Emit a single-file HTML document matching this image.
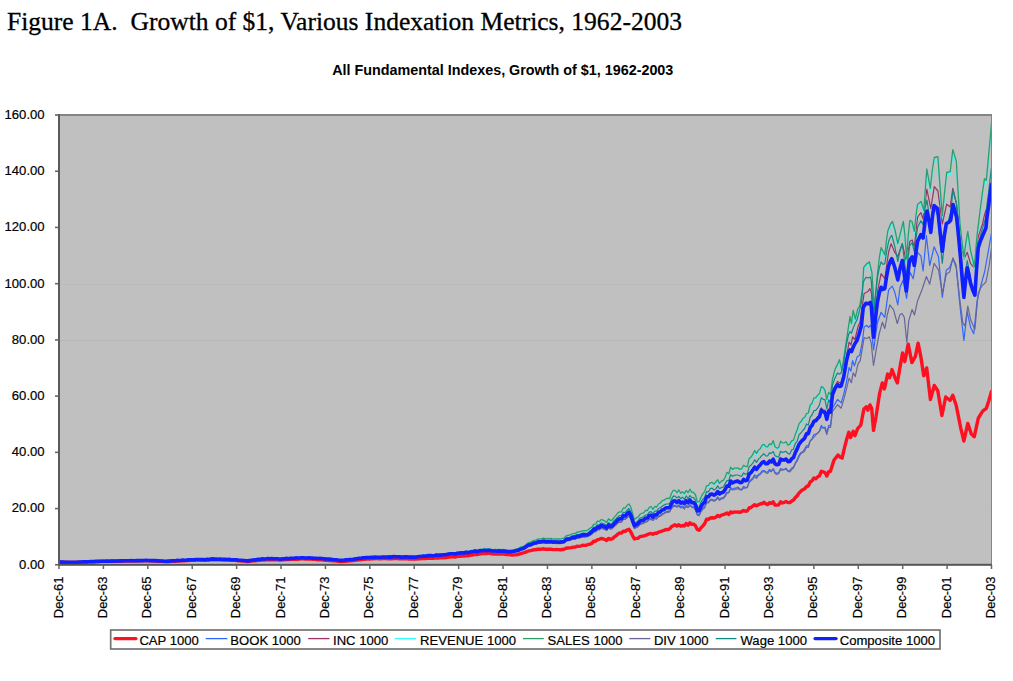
<!DOCTYPE html>
<html><head><meta charset="utf-8"><title>Figure 1A</title>
<style>
html,body{margin:0;padding:0;background:#fff;}
body{width:1013px;height:681px;position:relative;overflow:hidden;font-family:"Liberation Sans",sans-serif;}
.fig{position:absolute;left:7px;top:7.2px;font-family:"Liberation Serif",serif;font-size:25.55px;color:#000;white-space:pre;line-height:30px;-webkit-text-stroke:0.3px #000;}
.ct{position:absolute;left:0;width:1005.5px;top:62.4px;text-align:center;font-family:"Liberation Sans",sans-serif;font-weight:bold;font-size:14.35px;color:#000;line-height:16px;}
svg text{font-family:"Liberation Sans",sans-serif;fill:#000;stroke:#000;stroke-width:0.2px;}
.ax{font-size:12.95px;}
.ay{font-size:13.1px;}
.lg{font-size:13.1px;}
</style></head><body>
<div class="fig" id="fig">Figure 1A.  Growth of $1, Various Indexation Metrics, 1962-2003</div>
<div class="ct" id="ct">All Fundamental Indexes, Growth of $1, 1962-2003</div>
<svg width="1013" height="681" viewBox="0 0 1013 681" style="position:absolute;left:0;top:0"><rect x="59.0" y="115.0" width="932.5" height="449.79999999999995" fill="#c0c0c0"/><line x1="59.0" y1="509.5" x2="991.5" y2="509.5" stroke="#bebebe" stroke-width="1"/><line x1="59.0" y1="452.5" x2="991.5" y2="452.5" stroke="#bebebe" stroke-width="1"/><line x1="59.0" y1="396.5" x2="991.5" y2="396.5" stroke="#bebebe" stroke-width="1"/><line x1="59.0" y1="340.5" x2="991.5" y2="340.5" stroke="#b7b7b7" stroke-width="1"/><line x1="59.0" y1="284.5" x2="991.5" y2="284.5" stroke="#bbbbbb" stroke-width="1"/><line x1="59.0" y1="227.5" x2="991.5" y2="227.5" stroke="#bebebe" stroke-width="1"/><line x1="59.0" y1="171.5" x2="991.5" y2="171.5" stroke="#bebebe" stroke-width="1"/><clipPath id="cp"><rect x="59.0" y="114.0" width="933.0" height="451.79999999999995"/></clipPath><g clip-path="url(#cp)" fill="none" stroke-linejoin="round" stroke-linecap="round"><path d="M59.0,561.9 L60.9,562.1 L62.7,562.2 L64.6,562.3 L66.4,562.3 L68.3,562.5 L70.1,562.5 L72.0,562.4 L73.8,562.4 L75.7,562.4 L77.5,562.3 L79.4,562.2 L81.2,562.1 L83.1,562.0 L84.9,562.1 L86.8,562.0 L88.6,561.9 L90.5,561.7 L92.3,561.8 L94.2,561.7 L96.0,561.6 L97.9,561.6 L99.7,561.5 L101.6,561.4 L103.4,561.3 L105.3,561.4 L107.1,561.3 L109.0,561.4 L110.8,561.3 L112.7,561.3 L114.5,561.3 L116.4,561.2 L118.2,561.2 L120.1,561.3 L121.9,561.2 L123.8,561.1 L125.6,561.0 L127.5,561.0 L129.3,561.1 L131.2,560.9 L133.0,561.0 L134.9,561.0 L136.7,561.0 L138.6,560.9 L140.4,560.8 L142.3,560.9 L144.1,560.8 L146.0,560.8 L147.8,560.9 L149.7,560.9 L151.5,560.9 L153.4,561.0 L155.2,561.1 L157.1,561.2 L158.9,561.3 L160.8,561.4 L162.6,561.4 L164.5,561.6 L166.3,561.6 L168.2,561.5 L170.0,561.4 L171.9,561.2 L173.7,561.3 L175.6,561.2 L177.4,560.9 L179.3,561.0 L181.1,560.9 L183.0,560.7 L184.8,560.8 L186.7,560.6 L188.5,560.5 L190.4,560.4 L192.2,560.3 L194.1,560.3 L195.9,560.1 L197.8,560.1 L199.6,560.1 L201.5,560.1 L203.3,560.1 L205.2,560.2 L207.0,560.0 L208.9,560.1 L210.7,559.9 L212.6,559.7 L214.4,559.9 L216.3,559.8 L218.1,559.9 L220.0,559.9 L221.8,560.0 L223.7,560.0 L225.5,560.1 L227.4,560.1 L229.2,560.0 L231.1,560.3 L232.9,560.2 L234.8,560.4 L236.6,560.5 L238.5,560.8 L240.3,560.9 L242.2,561.0 L244.0,561.1 L245.9,561.3 L247.7,561.5 L249.6,561.3 L251.4,561.0 L253.3,560.9 L255.1,560.7 L257.0,560.5 L258.8,560.2 L260.7,560.2 L262.5,559.8 L264.4,560.0 L266.2,559.9 L268.1,559.6 L269.9,559.8 L271.8,559.7 L273.6,559.7 L275.5,559.9 L277.3,559.9 L279.2,560.0 L281.0,560.1 L282.9,559.8 L284.7,559.8 L286.6,559.6 L288.4,559.6 L290.3,559.5 L292.1,559.4 L294.0,559.3 L295.8,559.1 L297.7,559.2 L299.5,559.0 L301.4,558.9 L303.2,558.9 L305.1,559.1 L306.9,559.1 L308.8,559.0 L310.6,559.1 L312.5,559.3 L314.3,559.4 L316.2,559.5 L318.0,559.8 L319.9,559.7 L321.7,559.9 L323.6,560.0 L325.4,560.2 L327.3,560.4 L329.1,560.5 L331.0,560.6 L332.8,560.8 L334.7,560.9 L336.5,561.1 L338.4,561.4 L340.2,561.6 L342.1,561.5 L343.9,561.4 L345.8,561.2 L347.6,561.0 L349.5,560.9 L351.3,560.8 L353.2,560.6 L355.0,560.3 L356.9,560.1 L358.7,559.9 L360.6,559.7 L362.4,559.4 L364.3,559.3 L366.1,559.1 L368.0,559.1 L369.8,559.0 L371.7,558.9 L373.5,558.9 L375.4,558.6 L377.2,558.6 L379.1,558.7 L380.9,558.7 L382.8,558.6 L384.6,558.6 L386.5,558.6 L388.3,558.8 L390.2,558.7 L392.0,558.7 L393.9,558.4 L395.7,558.6 L397.6,558.6 L399.4,558.7 L401.3,558.9 L403.1,558.9 L405.0,558.8 L406.8,558.6 L408.7,559.0 L410.5,559.0 L412.4,558.9 L414.2,559.0 L416.1,559.0 L417.9,558.8 L419.8,558.7 L421.6,558.6 L423.5,558.3 L425.3,558.5 L427.2,558.4 L429.0,558.2 L430.9,558.1 L432.7,558.3 L434.6,558.0 L436.4,557.8 L438.3,558.0 L440.1,557.9 L442.0,557.6 L443.8,557.7 L445.7,557.5 L447.5,557.2 L449.4,557.0 L451.2,556.9 L453.1,556.9 L454.9,557.0 L456.8,556.5 L458.6,556.3 L460.5,556.2 L462.3,555.9 L464.2,556.0 L466.0,555.5 L467.9,555.7 L469.7,555.4 L471.6,555.0 L473.4,554.8 L475.3,554.2 L477.1,554.5 L479.0,554.0 L480.8,553.8 L482.7,553.6 L484.5,553.3 L486.4,553.5 L488.2,553.2 L490.1,553.4 L491.9,553.9 L493.8,554.0 L495.6,554.0 L497.5,554.1 L499.3,554.0 L501.2,554.1 L503.0,554.1 L504.9,554.2 L506.7,554.5 L508.6,554.6 L510.4,554.7 L512.3,555.0 L514.1,554.9 L516.0,554.8 L517.8,554.6 L519.7,553.9 L521.5,553.4 L523.4,552.9 L525.2,552.4 L527.1,551.5 L529.0,550.9 L530.8,550.6 L532.7,550.0 L534.5,549.7 L536.4,549.5 L538.2,549.1 L540.1,549.3 L541.9,549.1 L543.8,548.8 L545.6,549.4 L547.5,549.2 L549.3,549.3 L551.2,549.2 L553.0,549.6 L554.9,549.6 L556.7,549.5 L558.6,549.6 L560.4,549.8 L562.3,549.5 L564.1,549.2 L566.0,548.3 L567.8,548.0 L569.7,547.9 L571.5,547.6 L573.4,547.1 L575.2,547.1 L577.1,546.2 L578.9,546.4 L580.8,546.1 L582.6,545.2 L584.5,545.4 L586.3,545.3 L588.2,544.5 L590.0,544.1 L591.9,543.4 L593.7,541.1 L595.6,541.2 L597.4,539.7 L599.3,539.3 L601.1,538.5 L603.0,538.7 L604.8,539.5 L606.7,540.4 L608.5,538.4 L610.4,539.3 L612.2,538.9 L614.1,537.1 L615.9,535.9 L617.8,534.1 L619.6,532.9 L621.5,533.1 L623.3,531.3 L625.2,531.3 L627.0,530.0 L628.9,529.2 L630.7,531.7 L632.6,535.7 L634.4,539.0 L636.3,538.4 L638.1,538.3 L640.0,536.6 L641.8,536.3 L643.7,535.9 L645.5,535.3 L647.4,534.6 L649.2,533.8 L651.1,533.4 L652.9,534.3 L654.8,533.3 L656.6,533.3 L658.5,532.2 L660.3,531.7 L662.2,531.0 L664.0,530.4 L665.9,529.5 L667.7,529.6 L669.6,528.9 L671.4,526.8 L673.3,525.6 L675.1,524.8 L677.0,526.1 L678.8,524.7 L680.7,526.3 L682.5,525.5 L684.4,526.0 L686.2,523.5 L688.1,525.2 L689.9,522.9 L691.8,524.4 L693.6,524.1 L695.5,525.7 L697.3,529.4 L699.2,530.3 L701.0,527.8 L702.9,525.8 L704.7,523.6 L706.6,519.3 L708.4,519.2 L710.3,518.0 L712.1,517.8 L714.0,518.0 L715.8,517.2 L717.7,515.4 L719.5,516.5 L721.4,515.2 L723.2,514.7 L725.1,513.9 L726.9,512.9 L728.8,514.5 L730.6,511.9 L732.5,512.8 L734.3,511.9 L736.2,512.1 L738.0,512.0 L739.9,512.4 L741.7,511.5 L743.6,510.5 L745.4,511.2 L747.3,511.0 L749.1,508.0 L751.0,507.5 L752.8,506.0 L754.7,504.7 L756.5,505.9 L758.4,504.8 L760.2,504.0 L762.1,503.5 L763.9,502.3 L765.8,503.8 L767.6,504.6 L769.5,502.6 L771.3,503.3 L773.2,501.9 L775.0,505.1 L776.9,505.1 L778.7,504.8 L780.6,501.8 L782.4,503.0 L784.3,502.3 L786.1,501.5 L788.0,502.6 L789.8,502.6 L791.7,501.1 L793.5,500.1 L795.4,497.5 L797.2,495.8 L799.1,492.9 L800.9,491.2 L802.8,489.7 L804.6,488.9 L806.5,486.5 L808.3,486.0 L810.2,482.0 L812.0,480.8 L813.9,478.0 L815.7,478.8 L817.6,476.8 L819.4,476.0 L821.3,471.3 L823.1,471.9 L825.0,472.5 L826.8,476.0 L828.7,471.6 L830.5,471.3 L833.9,460.2 L838.0,455.0 L840.0,457.0 L842.1,458.1 L844.4,448.1 L846.5,440.0 L848.8,432.2 L850.6,437.5 L853.2,431.3 L855.0,435.7 L857.6,428.7 L860.8,425.2 L863.8,409.3 L866.4,406.7 L867.8,410.2 L870.0,404.9 L871.7,408.4 L873.5,430.4 L876.1,416.3 L879.6,393.4 L882.3,382.9 L884.4,389.0 L887.6,374.1 L889.7,377.6 L892.0,369.6 L894.6,376.7 L897.3,382.9 L899.9,367.9 L902.6,352.9 L904.8,361.7 L908.2,344.1 L911.9,362.6 L915.4,356.4 L918.1,343.2 L921.1,358.2 L923.7,375.8 L926.7,367.9 L930.4,399.6 L934.3,385.5 L937.8,390.8 L941.9,415.5 L945.7,397.0 L950.1,400.5 L952.8,395.2 L956.3,405.8 L960.7,427.8 L963.9,441.0 L967.8,423.4 L971.3,434.0 L974.3,436.6 L978.3,418.1 L982.7,411.1 L986.3,408.4 L988.9,400.5 L991.5,391.5" stroke="#ff1020" stroke-width="3.4"/><path d="M59.0,561.9 L60.9,562.1 L62.7,562.2 L64.6,562.3 L66.4,562.3 L68.3,562.4 L70.1,562.4 L72.0,562.3 L73.8,562.3 L75.7,562.2 L77.5,562.2 L79.4,562.1 L81.2,562.0 L83.1,561.9 L84.9,562.0 L86.8,561.9 L88.6,561.7 L90.5,561.6 L92.3,561.6 L94.2,561.6 L96.0,561.4 L97.9,561.4 L99.7,561.3 L101.6,561.2 L103.4,561.2 L105.3,561.2 L107.1,561.1 L109.0,561.1 L110.8,561.1 L112.7,561.1 L114.5,561.0 L116.4,561.0 L118.2,561.0 L120.1,560.9 L121.9,560.9 L123.8,560.9 L125.6,560.8 L127.5,560.7 L129.3,560.9 L131.2,560.6 L133.0,560.7 L134.9,560.7 L136.7,560.6 L138.6,560.6 L140.4,560.5 L142.3,560.6 L144.1,560.5 L146.0,560.5 L147.8,560.6 L149.7,560.6 L151.5,560.5 L153.4,560.6 L155.2,560.7 L157.1,560.8 L158.9,560.9 L160.8,561.0 L162.6,561.0 L164.5,561.2 L166.3,561.2 L168.2,561.1 L170.0,561.1 L171.9,560.8 L173.7,560.8 L175.6,560.7 L177.4,560.5 L179.3,560.5 L181.1,560.4 L183.0,560.1 L184.8,560.3 L186.7,560.1 L188.5,559.9 L190.4,559.8 L192.2,559.7 L194.1,559.7 L195.9,559.6 L197.8,559.6 L199.6,559.6 L201.5,559.7 L203.3,559.6 L205.2,559.7 L207.0,559.4 L208.9,559.5 L210.7,559.2 L212.6,559.0 L214.4,559.2 L216.3,559.2 L218.1,559.2 L220.0,559.2 L221.8,559.4 L223.7,559.4 L225.5,559.5 L227.4,559.5 L229.2,559.5 L231.1,559.7 L232.9,559.8 L234.8,559.9 L236.6,560.0 L238.5,560.3 L240.3,560.3 L242.2,560.4 L244.0,560.6 L245.9,560.7 L247.7,561.0 L249.6,560.7 L251.4,560.3 L253.3,560.2 L255.1,560.0 L257.0,559.6 L258.8,559.4 L260.7,559.3 L262.5,558.9 L264.4,559.1 L266.2,558.9 L268.1,558.6 L269.9,558.8 L271.8,558.7 L273.6,558.8 L275.5,559.0 L277.3,559.0 L279.2,559.1 L281.0,559.2 L282.9,558.9 L284.7,558.9 L286.6,558.6 L288.4,558.8 L290.3,558.5 L292.1,558.5 L294.0,558.4 L295.8,558.1 L297.7,558.2 L299.5,558.1 L301.4,558.0 L303.2,557.9 L305.1,558.2 L306.9,558.1 L308.8,558.0 L310.6,558.1 L312.5,558.3 L314.3,558.4 L316.2,558.5 L318.0,558.7 L319.9,558.5 L321.7,558.7 L323.6,558.8 L325.4,559.1 L327.3,559.2 L329.1,559.2 L331.0,559.5 L332.8,559.7 L334.7,559.8 L336.5,560.0 L338.4,560.3 L340.2,560.5 L342.1,560.5 L343.9,560.4 L345.8,560.0 L347.6,559.9 L349.5,559.8 L351.3,559.7 L353.2,559.5 L355.0,559.1 L356.9,558.9 L358.7,558.6 L360.6,558.5 L362.4,558.1 L364.3,557.9 L366.1,557.8 L368.0,557.7 L369.8,557.8 L371.7,557.6 L373.5,557.7 L375.4,557.4 L377.2,557.5 L379.1,557.4 L380.9,557.4 L382.8,557.3 L384.6,557.2 L386.5,557.2 L388.3,557.3 L390.2,557.2 L392.0,557.3 L393.9,556.9 L395.7,557.1 L397.6,557.1 L399.4,557.1 L401.3,557.4 L403.1,557.3 L405.0,557.2 L406.8,557.0 L408.7,557.4 L410.5,557.3 L412.4,557.3 L414.2,557.5 L416.1,557.3 L417.9,557.0 L419.8,556.8 L421.6,556.7 L423.5,556.3 L425.3,556.5 L427.2,556.3 L429.0,556.0 L430.9,555.8 L432.7,556.1 L434.6,555.8 L436.4,555.4 L438.3,555.7 L440.1,555.5 L442.0,555.4 L443.8,555.2 L445.7,555.1 L447.5,554.6 L449.4,554.2 L451.2,554.2 L453.1,554.3 L454.9,554.3 L456.8,553.9 L458.6,553.8 L460.5,553.4 L462.3,553.3 L464.2,553.4 L466.0,552.9 L467.9,553.2 L469.7,552.7 L471.6,552.3 L473.4,552.1 L475.3,551.8 L477.1,552.4 L479.0,551.5 L480.8,551.3 L482.7,551.3 L484.5,550.9 L486.4,551.3 L488.2,551.0 L490.1,551.2 L491.9,551.6 L493.8,551.6 L495.6,551.6 L497.5,551.9 L499.3,551.6 L501.2,551.8 L503.0,551.7 L504.9,551.9 L506.7,552.2 L508.6,552.4 L510.4,552.4 L512.3,552.1 L514.1,552.0 L516.0,551.6 L517.8,551.1 L519.7,550.2 L521.5,549.6 L523.4,549.2 L525.2,548.2 L527.1,546.8 L529.0,546.0 L530.8,545.8 L532.7,544.7 L534.5,544.3 L536.4,543.8 L538.2,543.0 L540.1,543.4 L541.9,542.8 L543.8,542.4 L545.6,543.0 L547.5,542.7 L549.3,542.8 L551.2,542.7 L553.0,543.3 L554.9,543.2 L556.7,543.1 L558.6,543.5 L560.4,543.3 L562.3,543.0 L564.1,542.7 L566.0,541.0 L567.8,540.4 L569.7,540.3 L571.5,539.4 L573.4,538.7 L575.2,539.0 L577.1,537.7 L578.9,538.0 L580.8,537.5 L582.6,536.6 L584.5,536.6 L586.3,536.5 L588.2,536.1 L590.0,535.0 L591.9,533.4 L593.7,531.5 L595.6,531.2 L597.4,529.2 L599.3,529.5 L601.1,527.9 L603.0,528.2 L604.8,529.1 L606.7,530.4 L608.5,527.3 L610.4,528.7 L612.2,528.2 L614.1,526.0 L615.9,524.8 L617.8,522.5 L619.6,521.9 L621.5,521.8 L623.3,518.7 L625.2,519.0 L627.0,517.3 L628.9,515.4 L630.7,517.9 L632.6,523.2 L634.4,528.0 L636.3,527.0 L638.1,526.5 L640.0,523.8 L641.8,523.2 L643.7,522.6 L645.5,521.0 L647.4,520.9 L649.2,518.8 L651.1,518.4 L652.9,520.2 L654.8,517.9 L656.6,517.9 L658.5,516.1 L660.3,515.3 L662.2,513.7 L664.0,513.0 L665.9,511.7 L667.7,511.1 L669.6,511.3 L671.4,508.1 L673.3,505.4 L675.1,505.3 L677.0,506.7 L678.8,505.0 L680.7,506.9 L682.5,506.0 L684.4,507.6 L686.2,505.3 L688.1,506.9 L689.9,504.7 L691.8,507.0 L693.6,506.7 L695.5,509.1 L697.3,514.2 L699.2,514.6 L701.0,510.7 L702.9,508.2 L704.7,506.4 L706.6,502.2 L708.4,501.8 L710.3,499.7 L712.1,499.3 L714.0,500.6 L715.8,499.4 L717.7,496.9 L719.5,499.4 L721.4,497.9 L723.2,497.9 L725.1,495.4 L726.9,492.3 L728.8,492.1 L730.6,487.4 L732.5,489.2 L734.3,488.2 L736.2,488.1 L738.0,487.1 L739.9,489.0 L741.7,489.3 L743.6,486.3 L745.4,487.4 L747.3,487.2 L749.1,481.8 L751.0,479.6 L752.8,477.8 L754.7,474.9 L756.5,476.4 L758.4,474.6 L760.2,473.5 L762.1,470.8 L763.9,470.5 L765.8,471.8 L767.6,472.1 L769.5,469.4 L771.3,471.0 L773.2,468.8 L775.0,472.3 L776.9,473.2 L778.7,472.9 L780.6,468.6 L782.4,469.3 L784.3,469.3 L786.1,468.3 L788.0,471.2 L789.8,470.7 L791.7,468.0 L793.5,467.0 L795.4,462.7 L797.2,459.5 L799.1,455.0 L800.9,452.6 L802.8,451.9 L804.6,449.0 L806.5,445.7 L808.3,445.8 L810.2,440.6 L812.0,438.8 L813.9,434.5 L815.7,434.1 L817.6,433.2 L819.4,431.2 L821.3,425.5 L823.1,427.7 L825.0,427.0 L826.8,432.6 L828.7,425.3 L830.5,425.8 L832.5,408.0 L837.6,399.4 L841.2,402.9 L843.8,394.1 L846.5,381.8 L849.1,367.6 L850.9,371.2 L852.6,360.6 L854.4,365.9 L857.1,357.1 L859.7,355.3 L862.4,341.2 L864.1,327.1 L866.8,325.3 L868.5,327.5 L870.3,325.3 L871.1,327.0 L873.6,350.0 L877.4,323.0 L881.1,312.3 L884.8,317.3 L888.6,289.8 L892.3,286.1 L894.8,292.3 L897.8,304.8 L900.0,287.5 L903.0,280.0 L906.6,298.5 L909.9,272.1 L913.2,278.7 L917.6,252.3 L920.9,256.0 L923.1,271.0 L926.4,235.7 L929.7,265.5 L934.1,246.8 L938.5,256.7 L942.3,297.4 L946.3,269.9 L949.6,267.7 L952.9,258.9 L956.2,267.5 L960.6,311.7 L963.9,340.4 L967.2,311.7 L970.5,327.2 L973.8,333.8 L977.1,300.7 L981.5,283.1 L984.8,271.0 L988.1,252.3 L991.5,233.0" stroke="#3366ff" stroke-width="1.2"/><path d="M59.0,561.9 L60.9,562.1 L62.7,562.1 L64.6,562.3 L66.4,562.3 L68.3,562.4 L70.1,562.4 L72.0,562.3 L73.8,562.2 L75.7,562.3 L77.5,562.2 L79.4,562.1 L81.2,562.0 L83.1,561.9 L84.9,562.0 L86.8,561.9 L88.6,561.7 L90.5,561.6 L92.3,561.6 L94.2,561.6 L96.0,561.4 L97.9,561.5 L99.7,561.3 L101.6,561.2 L103.4,561.2 L105.3,561.2 L107.1,561.1 L109.0,561.1 L110.8,561.1 L112.7,561.1 L114.5,561.0 L116.4,561.0 L118.2,561.0 L120.1,560.9 L121.9,560.9 L123.8,560.8 L125.6,560.8 L127.5,560.7 L129.3,560.8 L131.2,560.6 L133.0,560.7 L134.9,560.7 L136.7,560.6 L138.6,560.5 L140.4,560.5 L142.3,560.6 L144.1,560.5 L146.0,560.4 L147.8,560.5 L149.7,560.6 L151.5,560.5 L153.4,560.6 L155.2,560.7 L157.1,560.8 L158.9,560.9 L160.8,561.0 L162.6,561.0 L164.5,561.2 L166.3,561.2 L168.2,561.0 L170.0,561.1 L171.9,560.8 L173.7,560.8 L175.6,560.6 L177.4,560.4 L179.3,560.5 L181.1,560.4 L183.0,560.1 L184.8,560.2 L186.7,560.1 L188.5,559.9 L190.4,559.8 L192.2,559.7 L194.1,559.7 L195.9,559.5 L197.8,559.5 L199.6,559.5 L201.5,559.6 L203.3,559.6 L205.2,559.7 L207.0,559.3 L208.9,559.5 L210.7,559.1 L212.6,558.9 L214.4,559.2 L216.3,559.1 L218.1,559.1 L220.0,559.1 L221.8,559.3 L223.7,559.3 L225.5,559.4 L227.4,559.5 L229.2,559.4 L231.1,559.7 L232.9,559.7 L234.8,559.8 L236.6,559.9 L238.5,560.2 L240.3,560.1 L242.2,560.4 L244.0,560.4 L245.9,560.7 L247.7,560.9 L249.6,560.6 L251.4,560.3 L253.3,560.1 L255.1,559.9 L257.0,559.5 L258.8,559.2 L260.7,559.2 L262.5,558.8 L264.4,558.9 L266.2,558.8 L268.1,558.4 L269.9,558.7 L271.8,558.6 L273.6,558.7 L275.5,558.8 L277.3,558.9 L279.2,559.0 L281.0,559.1 L282.9,558.8 L284.7,558.7 L286.6,558.5 L288.4,558.6 L290.3,558.5 L292.1,558.4 L294.0,558.3 L295.8,557.9 L297.7,558.0 L299.5,558.0 L301.4,557.8 L303.2,557.8 L305.1,557.9 L306.9,558.0 L308.8,557.8 L310.6,558.0 L312.5,558.1 L314.3,558.3 L316.2,558.3 L318.0,558.5 L319.9,558.4 L321.7,558.5 L323.6,558.6 L325.4,558.9 L327.3,559.0 L329.1,559.0 L331.0,559.3 L332.8,559.6 L334.7,559.7 L336.5,559.8 L338.4,560.2 L340.2,560.3 L342.1,560.3 L343.9,560.2 L345.8,559.9 L347.6,559.7 L349.5,559.6 L351.3,559.5 L353.2,559.2 L355.0,558.9 L356.9,558.8 L358.7,558.4 L360.6,558.2 L362.4,557.9 L364.3,557.6 L366.1,557.6 L368.0,557.4 L369.8,557.5 L371.7,557.4 L373.5,557.4 L375.4,557.1 L377.2,557.2 L379.1,557.2 L380.9,557.2 L382.8,557.0 L384.6,557.0 L386.5,556.9 L388.3,557.1 L390.2,556.9 L392.0,557.0 L393.9,556.6 L395.7,556.9 L397.6,556.7 L399.4,556.9 L401.3,557.1 L403.1,557.1 L405.0,556.9 L406.8,556.7 L408.7,557.0 L410.5,557.0 L412.4,557.0 L414.2,557.1 L416.1,557.1 L417.9,556.7 L419.8,556.5 L421.6,556.4 L423.5,556.0 L425.3,556.1 L427.2,556.0 L429.0,555.6 L430.9,555.4 L432.7,555.9 L434.6,555.5 L436.4,555.1 L438.3,555.2 L440.1,555.1 L442.0,555.1 L443.8,554.8 L445.7,554.6 L447.5,554.3 L449.4,553.9 L451.2,553.7 L453.1,553.8 L454.9,553.9 L456.8,553.4 L458.6,553.3 L460.5,553.0 L462.3,552.8 L464.2,552.9 L466.0,552.3 L467.9,552.7 L469.7,552.2 L471.6,551.8 L473.4,551.6 L475.3,551.1 L477.1,551.6 L479.0,550.9 L480.8,550.7 L482.7,550.7 L484.5,550.3 L486.4,550.8 L488.2,550.4 L490.1,550.5 L491.9,551.0 L493.8,550.9 L495.6,550.8 L497.5,551.2 L499.3,550.8 L501.2,551.2 L503.0,551.1 L504.9,551.2 L506.7,551.5 L508.6,551.8 L510.4,551.8 L512.3,551.5 L514.1,551.4 L516.0,550.9 L517.8,550.5 L519.7,549.6 L521.5,548.8 L523.4,548.2 L525.2,547.5 L527.1,545.8 L529.0,545.0 L530.8,544.7 L532.7,543.5 L534.5,542.8 L536.4,542.9 L538.2,541.7 L540.1,542.0 L541.9,541.6 L543.8,541.1 L545.6,541.7 L547.5,541.3 L549.3,541.6 L551.2,541.5 L553.0,542.2 L554.9,542.2 L556.7,542.1 L558.6,542.1 L560.4,542.2 L562.3,541.9 L564.1,541.4 L566.0,539.6 L567.8,539.1 L569.7,539.0 L571.5,538.0 L573.4,537.0 L575.2,537.4 L577.1,536.1 L578.9,536.4 L580.8,535.7 L582.6,534.8 L584.5,535.0 L586.3,535.1 L588.2,534.3 L590.0,533.2 L591.9,531.9 L593.7,529.4 L595.6,529.3 L597.4,527.1 L599.3,527.1 L601.1,525.3 L603.0,526.0 L604.8,526.6 L606.7,527.8 L608.5,524.9 L610.4,526.8 L612.2,526.1 L614.1,523.6 L615.9,521.8 L617.8,519.5 L619.6,518.7 L621.5,518.7 L623.3,515.4 L625.2,516.0 L627.0,513.4 L628.9,512.4 L630.7,514.4 L632.6,520.6 L634.4,525.5 L636.3,524.5 L638.1,523.8 L640.0,521.0 L641.8,520.3 L643.7,519.8 L645.5,518.1 L647.4,517.7 L649.2,515.7 L651.1,515.2 L652.9,517.1 L654.8,514.9 L656.6,514.8 L658.5,512.4 L660.3,511.6 L662.2,509.9 L664.0,509.1 L665.9,507.6 L667.7,507.4 L669.6,507.3 L671.4,503.5 L673.3,500.6 L675.1,500.6 L677.0,502.8 L678.8,500.5 L680.7,502.4 L682.5,502.2 L684.4,503.3 L686.2,500.5 L688.1,502.1 L689.9,499.6 L691.8,502.5 L693.6,502.2 L695.5,504.9 L697.3,510.2 L699.2,510.4 L701.0,506.4 L702.9,503.6 L704.7,501.7 L706.6,496.7 L708.4,496.6 L710.3,493.6 L712.1,493.7 L714.0,494.6 L715.8,493.4 L717.7,491.4 L719.5,493.1 L721.4,492.0 L723.2,492.0 L725.1,489.5 L726.9,485.5 L728.8,485.6 L730.6,480.7 L732.5,482.5 L734.3,481.5 L736.2,481.0 L738.0,480.4 L739.9,481.5 L741.7,481.4 L743.6,479.0 L745.4,480.1 L747.3,479.7 L749.1,473.5 L751.0,472.0 L752.8,469.0 L754.7,466.1 L756.5,468.9 L758.4,465.4 L760.2,464.4 L762.1,461.7 L763.9,460.6 L765.8,463.1 L767.6,463.3 L769.5,460.0 L771.3,460.8 L773.2,458.3 L775.0,462.3 L776.9,463.7 L778.7,463.6 L780.6,458.0 L782.4,459.2 L784.3,458.9 L786.1,458.0 L788.0,460.5 L789.8,459.9 L791.7,457.7 L793.5,456.3 L795.4,451.5 L797.2,448.4 L799.1,443.3 L800.9,440.5 L802.8,439.9 L804.6,437.0 L806.5,432.3 L808.3,432.0 L810.2,425.8 L812.0,423.6 L813.9,420.0 L815.7,419.6 L817.6,416.8 L819.4,415.9 L821.3,407.8 L823.1,410.7 L825.0,410.0 L826.8,417.6 L828.7,408.8 L830.5,409.9 L832.5,391.0 L837.5,381.5 L841.2,383.5 L843.8,373.0 L846.5,357.0 L849.1,342.0 L851.0,345.0 L852.6,336.8 L855.0,339.5 L857.9,327.0 L860.0,322.0 L862.0,308.0 L864.1,293.5 L867.6,291.8 L869.9,288.6 L871.5,293.0 L873.6,331.0 L877.4,292.0 L881.1,273.6 L884.8,278.6 L888.6,252.0 L891.1,243.7 L894.8,252.4 L897.8,256.5 L900.0,250.0 L902.3,243.7 L906.3,261.0 L909.9,241.3 L912.2,240.0 L914.3,247.0 L917.6,217.0 L920.9,212.6 L923.1,219.0 L926.8,189.2 L930.8,208.6 L934.3,186.6 L937.9,191.0 L942.3,224.0 L946.7,204.2 L950.2,207.0 L952.8,188.3 L956.3,203.0 L960.6,239.1 L963.9,258.9 L967.2,252.3 L970.5,263.3 L974.4,268.0 L978.2,236.9 L982.6,223.6 L984.8,213.7 L987.5,206.0 L989.5,192.0 L991.5,181.0" stroke="#993366" stroke-width="1.2"/><path d="M59.0,561.9 L60.9,562.1 L62.7,562.2 L64.6,562.3 L66.4,562.3 L68.3,562.3 L70.1,562.4 L72.0,562.3 L73.8,562.3 L75.7,562.2 L77.5,562.2 L79.4,562.1 L81.2,561.9 L83.1,561.9 L84.9,561.9 L86.8,561.9 L88.6,561.7 L90.5,561.6 L92.3,561.6 L94.2,561.6 L96.0,561.4 L97.9,561.4 L99.7,561.2 L101.6,561.2 L103.4,561.2 L105.3,561.2 L107.1,561.1 L109.0,561.1 L110.8,561.1 L112.7,561.0 L114.5,561.0 L116.4,561.0 L118.2,560.9 L120.1,560.9 L121.9,560.8 L123.8,560.8 L125.6,560.7 L127.5,560.6 L129.3,560.8 L131.2,560.6 L133.0,560.6 L134.9,560.7 L136.7,560.6 L138.6,560.5 L140.4,560.4 L142.3,560.5 L144.1,560.4 L146.0,560.4 L147.8,560.5 L149.7,560.5 L151.5,560.4 L153.4,560.5 L155.2,560.6 L157.1,560.7 L158.9,560.8 L160.8,560.9 L162.6,560.9 L164.5,561.1 L166.3,561.1 L168.2,561.0 L170.0,561.0 L171.9,560.7 L173.7,560.8 L175.6,560.6 L177.4,560.3 L179.3,560.4 L181.1,560.3 L183.0,560.0 L184.8,560.1 L186.7,560.0 L188.5,559.8 L190.4,559.7 L192.2,559.5 L194.1,559.5 L195.9,559.4 L197.8,559.4 L199.6,559.4 L201.5,559.5 L203.3,559.4 L205.2,559.5 L207.0,559.2 L208.9,559.3 L210.7,558.9 L212.6,558.8 L214.4,559.0 L216.3,558.9 L218.1,559.0 L220.0,558.9 L221.8,559.1 L223.7,559.2 L225.5,559.3 L227.4,559.3 L229.2,559.2 L231.1,559.5 L232.9,559.5 L234.8,559.6 L236.6,559.7 L238.5,560.0 L240.3,560.0 L242.2,560.2 L244.0,560.3 L245.9,560.5 L247.7,560.7 L249.6,560.5 L251.4,560.1 L253.3,559.9 L255.1,559.7 L257.0,559.3 L258.8,559.0 L260.7,559.0 L262.5,558.6 L264.4,558.7 L266.2,558.5 L268.1,558.2 L269.9,558.4 L271.8,558.4 L273.6,558.5 L275.5,558.6 L277.3,558.6 L279.2,558.7 L281.0,558.8 L282.9,558.6 L284.7,558.4 L286.6,558.1 L288.4,558.4 L290.3,558.1 L292.1,558.1 L294.0,557.9 L295.8,557.6 L297.7,557.7 L299.5,557.7 L301.4,557.5 L303.2,557.4 L305.1,557.7 L306.9,557.7 L308.8,557.4 L310.6,557.6 L312.5,557.8 L314.3,557.9 L316.2,558.0 L318.0,558.2 L319.9,558.1 L321.7,558.2 L323.6,558.3 L325.4,558.6 L327.3,558.7 L329.1,558.8 L331.0,559.0 L332.8,559.3 L334.7,559.4 L336.5,559.6 L338.4,559.9 L340.2,560.1 L342.1,560.1 L343.9,560.0 L345.8,559.6 L347.6,559.5 L349.5,559.3 L351.3,559.3 L353.2,559.0 L355.0,558.6 L356.9,558.4 L358.7,558.0 L360.6,557.9 L362.4,557.5 L364.3,557.2 L366.1,557.2 L368.0,557.0 L369.8,557.1 L371.7,556.9 L373.5,556.9 L375.4,556.7 L377.2,556.7 L379.1,556.7 L380.9,556.6 L382.8,556.4 L384.6,556.5 L386.5,556.4 L388.3,556.6 L390.2,556.3 L392.0,556.6 L393.9,556.0 L395.7,556.2 L397.6,556.3 L399.4,556.3 L401.3,556.6 L403.1,556.5 L405.0,556.3 L406.8,556.1 L408.7,556.6 L410.5,556.5 L412.4,556.5 L414.2,556.6 L416.1,556.4 L417.9,556.1 L419.8,555.9 L421.6,555.8 L423.5,555.4 L425.3,555.5 L427.2,555.2 L429.0,554.8 L430.9,554.7 L432.7,555.1 L434.6,554.7 L436.4,554.3 L438.3,554.6 L440.1,554.3 L442.0,554.2 L443.8,554.0 L445.7,553.7 L447.5,553.4 L449.4,552.9 L451.2,552.8 L453.1,552.8 L454.9,553.0 L456.8,552.4 L458.6,552.3 L460.5,551.8 L462.3,551.8 L464.2,552.0 L466.0,551.2 L467.9,551.5 L469.7,551.0 L471.6,550.6 L473.4,550.4 L475.3,549.8 L477.1,550.6 L479.0,549.7 L480.8,549.3 L482.7,549.3 L484.5,548.8 L486.4,549.3 L488.2,548.9 L490.1,549.0 L491.9,549.5 L493.8,549.5 L495.6,549.5 L497.5,549.8 L499.3,549.4 L501.2,549.7 L503.0,549.6 L504.9,549.8 L506.7,550.2 L508.6,550.3 L510.4,550.3 L512.3,550.0 L514.1,549.9 L516.0,549.3 L517.8,548.8 L519.7,547.8 L521.5,546.9 L523.4,546.4 L525.2,545.3 L527.1,543.7 L529.0,542.4 L530.8,542.3 L532.7,541.0 L534.5,540.4 L536.4,540.1 L538.2,539.1 L540.1,539.2 L541.9,538.6 L543.8,538.2 L545.6,538.9 L547.5,538.6 L549.3,538.8 L551.2,538.4 L553.0,539.3 L554.9,539.2 L556.7,539.0 L558.6,539.4 L560.4,539.1 L562.3,538.9 L564.1,538.2 L566.0,536.1 L567.8,535.7 L569.7,535.6 L571.5,534.2 L573.4,533.6 L575.2,534.0 L577.1,532.1 L578.9,532.5 L580.8,531.8 L582.6,530.6 L584.5,530.8 L586.3,530.8 L588.2,530.1 L590.0,528.7 L591.9,527.1 L593.7,524.4 L595.6,524.6 L597.4,521.7 L599.3,521.9 L601.1,520.1 L603.0,520.5 L604.8,521.5 L606.7,523.0 L608.5,519.2 L610.4,520.9 L612.2,520.4 L614.1,517.5 L615.9,515.7 L617.8,513.5 L619.6,512.3 L621.5,512.0 L623.3,508.7 L625.2,508.7 L627.0,506.0 L628.9,504.6 L630.7,507.2 L632.6,513.8 L634.4,519.8 L636.3,518.5 L638.1,517.8 L640.0,514.5 L641.8,513.8 L643.7,513.1 L645.5,511.1 L647.4,510.9 L649.2,508.3 L651.1,507.5 L652.9,510.2 L654.8,507.0 L656.6,507.2 L658.5,504.6 L660.3,503.9 L662.2,501.6 L664.0,501.2 L665.9,499.2 L667.7,499.0 L669.6,499.2 L671.4,495.2 L673.3,491.1 L675.1,491.1 L677.0,493.1 L678.8,491.0 L680.7,493.7 L682.5,492.0 L684.4,494.5 L686.2,490.6 L688.1,493.2 L689.9,490.0 L691.8,493.4 L693.6,492.4 L695.5,495.3 L697.3,502.6 L699.2,502.4 L701.0,497.4 L702.9,494.5 L704.7,492.3 L706.6,486.0 L708.4,486.3 L710.3,483.2 L712.1,483.0 L714.0,484.5 L715.8,483.1 L717.7,480.0 L719.5,483.6 L721.4,481.6 L723.2,480.7 L725.1,478.2 L726.9,473.8 L728.8,473.1 L730.6,467.6 L732.5,469.9 L734.3,469.2 L736.2,468.1 L738.0,468.1 L739.9,470.4 L741.7,469.3 L743.6,466.0 L745.4,467.8 L747.3,466.8 L749.1,459.8 L751.0,457.9 L752.8,454.7 L754.7,451.4 L756.5,454.5 L758.4,451.4 L760.2,449.3 L762.1,446.4 L763.9,445.2 L765.8,447.9 L767.6,448.1 L769.5,444.6 L771.3,446.0 L773.2,442.2 L775.0,447.8 L776.9,448.9 L778.7,448.3 L780.6,442.7 L782.4,443.3 L784.3,443.7 L786.1,442.8 L788.0,445.3 L789.8,445.3 L791.7,442.9 L793.5,441.3 L795.4,434.9 L797.2,431.7 L799.1,426.3 L800.9,423.3 L802.8,420.4 L804.6,419.7 L806.5,413.9 L808.3,413.9 L810.2,406.5 L812.0,404.8 L813.9,400.7 L815.7,398.6 L817.6,396.4 L819.4,396.0 L821.3,386.4 L823.1,388.7 L825.0,391.3 L826.8,401.0 L828.7,393.7 L830.5,396.8 L832.5,380.3 L835.0,370.8 L837.6,365.5 L839.4,361.1 L842.0,371.7 L844.7,353.3 L847.4,335.7 L850.0,318.2 L851.4,325.2 L853.2,312.1 L855.3,320.8 L857.9,310.3 L859.7,307.7 L862.4,291.9 L863.7,269.5 L866.5,266.1 L869.4,264.0 L871.9,274.4 L874.4,311.6 L877.4,276.9 L879.3,260.1 L881.1,249.7 L884.8,257.1 L886.5,242.3 L887.8,233.3 L890.5,226.4 L892.5,223.9 L895.0,232.3 L897.8,245.7 L900.0,236.9 L903.3,223.8 L905.0,238.3 L906.6,261.0 L908.2,238.3 L909.9,222.7 L912.0,223.9 L914.3,233.6 L916.0,217.4 L917.6,206.7 L921.1,204.0 L923.8,212.9 L925.4,190.6 L926.8,171.8 L930.3,190.9 L932.3,172.8 L934.3,160.4 L937.9,159.6 L940.0,188.7 L942.3,218.0 L944.5,195.6 L946.7,175.2 L950.2,174.4 L952.8,152.5 L956.3,163.9 L958.0,192.6 L959.9,225.1 L962.0,244.3 L963.9,258.9 L966.0,244.3 L967.8,233.6 L970.5,252.3 L974.4,268.7 L977.1,236.9 L980.4,210.7 L982.5,194.6 L984.5,181.4 L986.3,183.1 L988.9,155.2 L990.3,140.0 L991.5,126.1" stroke="#33ffff" stroke-width="1.2"/><path d="M59.0,561.9 L60.9,562.1 L62.7,562.1 L64.6,562.3 L66.4,562.3 L68.3,562.4 L70.1,562.4 L72.0,562.3 L73.8,562.2 L75.7,562.2 L77.5,562.2 L79.4,562.1 L81.2,561.9 L83.1,561.9 L84.9,561.9 L86.8,561.9 L88.6,561.7 L90.5,561.6 L92.3,561.6 L94.2,561.6 L96.0,561.4 L97.9,561.4 L99.7,561.3 L101.6,561.2 L103.4,561.2 L105.3,561.1 L107.1,561.0 L109.0,561.1 L110.8,561.1 L112.7,561.0 L114.5,561.0 L116.4,560.9 L118.2,560.9 L120.1,560.9 L121.9,560.8 L123.8,560.8 L125.6,560.7 L127.5,560.6 L129.3,560.8 L131.2,560.5 L133.0,560.6 L134.9,560.7 L136.7,560.6 L138.6,560.5 L140.4,560.4 L142.3,560.5 L144.1,560.4 L146.0,560.4 L147.8,560.4 L149.7,560.5 L151.5,560.4 L153.4,560.5 L155.2,560.5 L157.1,560.7 L158.9,560.8 L160.8,560.9 L162.6,560.9 L164.5,561.1 L166.3,561.1 L168.2,560.9 L170.0,561.0 L171.9,560.7 L173.7,560.7 L175.6,560.6 L177.4,560.3 L179.3,560.4 L181.1,560.3 L183.0,560.0 L184.8,560.1 L186.7,560.0 L188.5,559.8 L190.4,559.7 L192.2,559.6 L194.1,559.5 L195.9,559.4 L197.8,559.3 L199.6,559.3 L201.5,559.4 L203.3,559.4 L205.2,559.5 L207.0,559.1 L208.9,559.3 L210.7,559.0 L212.6,558.7 L214.4,558.9 L216.3,558.9 L218.1,558.9 L220.0,558.9 L221.8,559.1 L223.7,559.2 L225.5,559.2 L227.4,559.3 L229.2,559.2 L231.1,559.4 L232.9,559.5 L234.8,559.6 L236.6,559.7 L238.5,560.0 L240.3,560.0 L242.2,560.2 L244.0,560.3 L245.9,560.5 L247.7,560.7 L249.6,560.4 L251.4,560.1 L253.3,559.9 L255.1,559.7 L257.0,559.3 L258.8,559.0 L260.7,559.0 L262.5,558.6 L264.4,558.7 L266.2,558.5 L268.1,558.2 L269.9,558.4 L271.8,558.4 L273.6,558.4 L275.5,558.6 L277.3,558.6 L279.2,558.7 L281.0,558.9 L282.9,558.5 L284.7,558.5 L286.6,558.1 L288.4,558.4 L290.3,558.1 L292.1,558.1 L294.0,557.9 L295.8,557.6 L297.7,557.6 L299.5,557.7 L301.4,557.5 L303.2,557.4 L305.1,557.6 L306.9,557.6 L308.8,557.5 L310.6,557.5 L312.5,557.8 L314.3,557.9 L316.2,557.9 L318.0,558.2 L319.9,558.0 L321.7,558.2 L323.6,558.3 L325.4,558.6 L327.3,558.7 L329.1,558.7 L331.0,559.0 L332.8,559.3 L334.7,559.4 L336.5,559.6 L338.4,559.9 L340.2,560.1 L342.1,560.0 L343.9,560.0 L345.8,559.6 L347.6,559.4 L349.5,559.3 L351.3,559.2 L353.2,559.0 L355.0,558.6 L356.9,558.3 L358.7,558.0 L360.6,557.8 L362.4,557.5 L364.3,557.2 L366.1,557.1 L368.0,557.0 L369.8,557.0 L371.7,556.8 L373.5,556.9 L375.4,556.6 L377.2,556.7 L379.1,556.7 L380.9,556.7 L382.8,556.4 L384.6,556.5 L386.5,556.4 L388.3,556.5 L390.2,556.3 L392.0,556.5 L393.9,556.0 L395.7,556.2 L397.6,556.1 L399.4,556.3 L401.3,556.5 L403.1,556.5 L405.0,556.3 L406.8,556.1 L408.7,556.5 L410.5,556.4 L412.4,556.3 L414.2,556.6 L416.1,556.4 L417.9,556.0 L419.8,555.8 L421.6,555.8 L423.5,555.3 L425.3,555.4 L427.2,555.2 L429.0,554.7 L430.9,554.7 L432.7,555.1 L434.6,554.7 L436.4,554.2 L438.3,554.5 L440.1,554.2 L442.0,554.2 L443.8,553.9 L445.7,553.7 L447.5,553.3 L449.4,553.0 L451.2,552.6 L453.1,552.8 L454.9,552.9 L456.8,552.3 L458.6,552.1 L460.5,551.9 L462.3,551.7 L464.2,551.9 L466.0,551.1 L467.9,551.5 L469.7,550.9 L471.6,550.4 L473.4,550.2 L475.3,549.6 L477.1,550.4 L479.0,549.5 L480.8,549.2 L482.7,549.4 L484.5,548.8 L486.4,549.2 L488.2,548.9 L490.1,549.1 L491.9,549.4 L493.8,549.6 L495.6,549.3 L497.5,549.7 L499.3,549.4 L501.2,549.7 L503.0,549.4 L504.9,549.6 L506.7,550.0 L508.6,550.2 L510.4,550.2 L512.3,550.0 L514.1,549.7 L516.0,549.0 L517.8,548.7 L519.7,547.6 L521.5,546.8 L523.4,546.4 L525.2,545.2 L527.1,543.4 L529.0,542.5 L530.8,542.2 L532.7,540.8 L534.5,540.3 L536.4,539.9 L538.2,538.9 L540.1,539.1 L541.9,538.5 L543.8,538.1 L545.6,538.8 L547.5,538.5 L549.3,538.6 L551.2,538.4 L553.0,539.1 L554.9,538.8 L556.7,539.0 L558.6,538.9 L560.4,539.0 L562.3,538.4 L564.1,538.2 L566.0,536.0 L567.8,535.5 L569.7,535.2 L571.5,534.1 L573.4,533.5 L575.2,533.6 L577.1,532.0 L578.9,532.2 L580.8,531.4 L582.6,530.8 L584.5,530.6 L586.3,530.7 L588.2,529.8 L590.0,528.2 L591.9,527.1 L593.7,524.3 L595.6,524.2 L597.4,521.2 L599.3,521.7 L601.1,519.6 L603.0,520.0 L604.8,521.1 L606.7,522.4 L608.5,518.8 L610.4,520.5 L612.2,520.0 L614.1,517.4 L615.9,515.4 L617.8,512.8 L619.6,511.9 L621.5,511.8 L623.3,508.0 L625.2,508.2 L627.0,505.5 L628.9,503.9 L630.7,506.8 L632.6,513.5 L634.4,519.6 L636.3,517.9 L638.1,517.2 L640.0,514.3 L641.8,513.3 L643.7,512.8 L645.5,510.4 L647.4,510.5 L649.2,507.4 L651.1,506.5 L652.9,509.4 L654.8,506.5 L656.6,507.0 L658.5,504.0 L660.3,503.0 L662.2,500.6 L664.0,500.2 L665.9,498.9 L667.7,498.2 L669.6,498.7 L671.4,493.5 L673.3,490.4 L675.1,490.3 L677.0,492.7 L678.8,489.9 L680.7,493.2 L682.5,491.8 L684.4,493.6 L686.2,490.5 L688.1,492.7 L689.9,489.2 L691.8,492.3 L693.6,492.4 L695.5,495.0 L697.3,501.8 L699.2,501.7 L701.0,497.3 L702.9,493.6 L704.7,491.6 L706.6,485.8 L708.4,485.3 L710.3,482.6 L712.1,482.5 L714.0,484.0 L715.8,482.0 L717.7,479.7 L719.5,483.4 L721.4,481.2 L723.2,480.4 L725.1,477.5 L726.9,472.4 L728.8,473.7 L730.6,467.1 L732.5,469.4 L734.3,468.1 L736.2,468.1 L738.0,467.9 L739.9,469.4 L741.7,468.7 L743.6,465.2 L745.4,466.6 L747.3,466.5 L749.1,458.7 L751.0,457.1 L752.8,454.4 L754.7,450.5 L756.5,453.4 L758.4,450.2 L760.2,448.8 L762.1,445.2 L763.9,444.4 L765.8,446.7 L767.6,446.9 L769.5,443.8 L771.3,444.7 L773.2,440.7 L775.0,446.7 L776.9,448.1 L778.7,447.6 L780.6,441.1 L782.4,442.9 L784.3,442.7 L786.1,441.9 L788.0,445.3 L789.8,444.1 L791.7,440.8 L793.5,440.1 L795.4,434.1 L797.2,429.7 L799.1,423.6 L800.9,421.8 L802.8,418.7 L804.6,417.3 L806.5,413.7 L808.3,413.0 L810.2,405.0 L812.0,403.4 L813.9,397.9 L815.7,397.8 L817.6,395.2 L819.4,393.7 L821.3,386.7 L823.1,387.3 L825.0,390.5 L826.8,399.3 L828.7,392.3 L830.5,394.4 L832.5,379.0 L835.0,369.4 L837.6,364.1 L839.4,359.7 L842.0,370.3 L844.7,351.8 L847.4,334.1 L850.0,316.5 L851.4,323.5 L853.2,310.3 L855.3,319.1 L857.9,308.5 L859.7,305.9 L862.4,290.0 L863.7,267.4 L866.5,264.0 L869.4,261.9 L871.9,272.4 L874.4,309.8 L877.4,274.9 L879.3,258.0 L881.1,247.5 L884.8,254.9 L886.5,240.0 L887.8,231.0 L890.5,224.0 L892.5,221.5 L895.0,230.0 L897.8,243.5 L900.0,234.6 L903.3,221.4 L905.0,236.0 L906.6,258.9 L908.2,236.0 L909.9,220.3 L912.0,221.5 L914.3,231.3 L916.0,215.0 L917.6,204.2 L921.1,201.5 L923.8,210.4 L925.4,188.0 L926.8,169.0 L930.3,188.3 L932.3,170.0 L934.3,157.5 L937.9,156.7 L940.0,186.0 L942.3,215.6 L944.5,193.0 L946.7,172.5 L950.2,171.6 L952.8,149.6 L956.3,161.1 L958.0,190.0 L959.9,222.7 L962.0,242.0 L963.9,256.7 L966.0,242.0 L967.8,231.3 L970.5,250.1 L974.4,266.6 L977.1,234.6 L980.4,208.2 L982.5,192.0 L984.5,178.7 L986.3,180.4 L988.9,152.3 L990.3,137.0 L991.5,123.0" stroke="#2f9d6b" stroke-width="1.3"/><path d="M59.0,561.9 L60.9,562.1 L62.7,562.1 L64.6,562.3 L66.4,562.3 L68.3,562.4 L70.1,562.4 L72.0,562.3 L73.8,562.3 L75.7,562.2 L77.5,562.2 L79.4,562.1 L81.2,562.0 L83.1,561.9 L84.9,561.9 L86.8,561.9 L88.6,561.7 L90.5,561.6 L92.3,561.6 L94.2,561.6 L96.0,561.5 L97.9,561.4 L99.7,561.3 L101.6,561.2 L103.4,561.2 L105.3,561.2 L107.1,561.1 L109.0,561.1 L110.8,561.1 L112.7,561.1 L114.5,561.0 L116.4,561.0 L118.2,561.0 L120.1,561.0 L121.9,560.9 L123.8,560.9 L125.6,560.8 L127.5,560.7 L129.3,560.9 L131.2,560.7 L133.0,560.7 L134.9,560.7 L136.7,560.7 L138.6,560.6 L140.4,560.5 L142.3,560.6 L144.1,560.5 L146.0,560.5 L147.8,560.6 L149.7,560.6 L151.5,560.5 L153.4,560.6 L155.2,560.7 L157.1,560.8 L158.9,560.9 L160.8,561.0 L162.6,561.0 L164.5,561.2 L166.3,561.2 L168.2,561.1 L170.0,561.1 L171.9,560.8 L173.7,560.9 L175.6,560.8 L177.4,560.5 L179.3,560.6 L181.1,560.5 L183.0,560.2 L184.8,560.3 L186.7,560.1 L188.5,560.0 L190.4,559.8 L192.2,559.8 L194.1,559.7 L195.9,559.6 L197.8,559.6 L199.6,559.6 L201.5,559.7 L203.3,559.7 L205.2,559.7 L207.0,559.5 L208.9,559.6 L210.7,559.2 L212.6,559.0 L214.4,559.3 L216.3,559.2 L218.1,559.3 L220.0,559.2 L221.8,559.4 L223.7,559.4 L225.5,559.5 L227.4,559.5 L229.2,559.5 L231.1,559.7 L232.9,559.7 L234.8,559.9 L236.6,560.0 L238.5,560.3 L240.3,560.3 L242.2,560.4 L244.0,560.6 L245.9,560.8 L247.7,560.9 L249.6,560.7 L251.4,560.4 L253.3,560.2 L255.1,560.0 L257.0,559.6 L258.8,559.4 L260.7,559.3 L262.5,559.0 L264.4,559.1 L266.2,558.9 L268.1,558.7 L269.9,558.9 L271.8,558.8 L273.6,558.9 L275.5,559.0 L277.3,559.0 L279.2,559.1 L281.0,559.3 L282.9,559.0 L284.7,558.9 L286.6,558.7 L288.4,558.9 L290.3,558.6 L292.1,558.6 L294.0,558.5 L295.8,558.2 L297.7,558.3 L299.5,558.2 L301.4,558.1 L303.2,558.0 L305.1,558.2 L306.9,558.2 L308.8,558.1 L310.6,558.2 L312.5,558.4 L314.3,558.5 L316.2,558.5 L318.0,558.7 L319.9,558.6 L321.7,558.8 L323.6,558.9 L325.4,559.1 L327.3,559.2 L329.1,559.3 L331.0,559.5 L332.8,559.8 L334.7,559.9 L336.5,560.0 L338.4,560.4 L340.2,560.5 L342.1,560.5 L343.9,560.4 L345.8,560.1 L347.6,560.0 L349.5,559.9 L351.3,559.8 L353.2,559.5 L355.0,559.2 L356.9,559.0 L358.7,558.7 L360.6,558.5 L362.4,558.2 L364.3,558.0 L366.1,557.9 L368.0,557.8 L369.8,557.9 L371.7,557.7 L373.5,557.7 L375.4,557.4 L377.2,557.5 L379.1,557.5 L380.9,557.5 L382.8,557.3 L384.6,557.3 L386.5,557.3 L388.3,557.4 L390.2,557.2 L392.0,557.4 L393.9,557.0 L395.7,557.1 L397.6,557.2 L399.4,557.2 L401.3,557.4 L403.1,557.5 L405.0,557.3 L406.8,557.1 L408.7,557.4 L410.5,557.4 L412.4,557.4 L414.2,557.4 L416.1,557.3 L417.9,557.1 L419.8,556.9 L421.6,556.8 L423.5,556.5 L425.3,556.6 L427.2,556.4 L429.0,556.1 L430.9,556.0 L432.7,556.2 L434.6,555.9 L436.4,555.6 L438.3,555.8 L440.1,555.6 L442.0,555.5 L443.8,555.3 L445.7,555.2 L447.5,554.8 L449.4,554.4 L451.2,554.3 L453.1,554.3 L454.9,554.5 L456.8,554.0 L458.6,553.9 L460.5,553.6 L462.3,553.5 L464.2,553.6 L466.0,553.0 L467.9,553.3 L469.7,552.8 L471.6,552.4 L473.4,552.2 L475.3,551.9 L477.1,552.5 L479.0,551.7 L480.8,551.5 L482.7,551.5 L484.5,551.1 L486.4,551.5 L488.2,551.2 L490.1,551.4 L491.9,551.7 L493.8,551.8 L495.6,551.8 L497.5,551.9 L499.3,551.7 L501.2,551.9 L503.0,551.8 L504.9,552.0 L506.7,552.3 L508.6,552.5 L510.4,552.5 L512.3,552.3 L514.1,552.1 L516.0,551.6 L517.8,551.3 L519.7,550.5 L521.5,549.8 L523.4,549.3 L525.2,548.5 L527.1,547.0 L529.0,546.0 L530.8,546.0 L532.7,544.8 L534.5,544.4 L536.4,544.1 L538.2,543.2 L540.1,543.4 L541.9,543.1 L543.8,542.7 L545.6,543.3 L547.5,542.9 L549.3,543.1 L551.2,543.0 L553.0,543.5 L554.9,543.5 L556.7,543.6 L558.6,543.7 L560.4,543.6 L562.3,543.3 L564.1,543.0 L566.0,541.2 L567.8,540.7 L569.7,540.4 L571.5,539.8 L573.4,539.1 L575.2,539.3 L577.1,537.9 L578.9,538.2 L580.8,537.5 L582.6,537.2 L584.5,537.1 L586.3,536.8 L588.2,536.5 L590.0,535.3 L591.9,534.2 L593.7,532.2 L595.6,531.8 L597.4,529.8 L599.3,530.0 L601.1,528.0 L603.0,528.9 L604.8,529.5 L606.7,530.4 L608.5,527.7 L610.4,529.2 L612.2,528.6 L614.1,526.6 L615.9,525.2 L617.8,523.1 L619.6,522.3 L621.5,522.1 L623.3,519.5 L625.2,519.4 L627.0,517.9 L628.9,516.1 L630.7,518.8 L632.6,524.2 L634.4,528.7 L636.3,527.6 L638.1,526.7 L640.0,524.6 L641.8,523.8 L643.7,523.4 L645.5,522.1 L647.4,521.6 L649.2,519.6 L651.1,519.3 L652.9,520.5 L654.8,518.4 L656.6,519.2 L658.5,516.7 L660.3,516.3 L662.2,514.8 L664.0,513.8 L665.9,512.6 L667.7,512.5 L669.6,512.0 L671.4,508.8 L673.3,506.6 L675.1,506.2 L677.0,507.2 L678.8,506.1 L680.7,508.0 L682.5,507.3 L684.4,509.0 L686.2,506.4 L688.1,507.7 L689.9,505.4 L691.8,507.4 L693.6,507.6 L695.5,510.1 L697.3,515.1 L699.2,515.7 L701.0,511.7 L702.9,509.1 L704.7,507.9 L706.6,502.8 L708.4,502.9 L710.3,500.5 L712.1,500.0 L714.0,501.3 L715.8,500.3 L717.7,498.0 L719.5,500.4 L721.4,498.7 L723.2,498.7 L725.1,496.7 L726.9,493.2 L728.8,492.8 L730.6,489.0 L732.5,490.0 L734.3,489.7 L736.2,489.2 L738.0,488.6 L739.9,489.6 L741.7,490.2 L743.6,487.8 L745.4,488.1 L747.3,487.4 L749.1,482.5 L751.0,480.9 L752.8,479.1 L754.7,476.6 L756.5,478.3 L758.4,475.4 L760.2,474.4 L762.1,472.3 L763.9,471.3 L765.8,472.8 L767.6,473.5 L769.5,470.9 L771.3,471.8 L773.2,468.8 L775.0,473.4 L776.9,474.5 L778.7,473.5 L780.6,469.8 L782.4,470.1 L784.3,469.6 L786.1,469.2 L788.0,471.1 L789.8,471.9 L791.7,469.6 L793.5,468.0 L795.4,463.5 L797.2,461.0 L799.1,456.5 L800.9,453.6 L802.8,452.4 L804.6,451.3 L806.5,447.3 L808.3,447.5 L810.2,441.1 L812.0,439.5 L813.9,437.1 L815.7,435.2 L817.6,433.2 L819.4,431.5 L821.3,427.8 L823.1,427.7 L825.0,428.7 L826.8,434.6 L828.7,427.4 L830.5,427.5 L832.5,411.5 L837.6,404.7 L841.2,408.2 L843.8,399.4 L846.5,388.8 L849.1,378.2 L851.4,382.6 L853.2,372.9 L855.3,376.5 L857.9,364.1 L860.2,360.6 L862.4,348.2 L864.1,337.6 L866.8,338.5 L869.4,336.8 L871.2,342.9 L873.5,365.5 L876.5,348.2 L879.1,334.1 L882.4,322.2 L884.8,328.5 L887.5,314.0 L889.8,304.8 L893.6,309.8 L897.3,323.5 L899.8,314.8 L902.0,313.5 L904.3,317.3 L906.8,342.2 L908.8,320.6 L912.1,309.5 L914.5,315.0 L917.6,300.7 L922.0,289.7 L926.4,276.5 L929.7,284.2 L934.1,263.3 L938.5,269.9 L942.3,293.0 L946.3,274.3 L949.6,272.1 L952.9,257.8 L956.2,265.5 L959.9,300.7 L962.8,322.8 L965.0,326.1 L967.8,306.2 L970.9,320.6 L974.9,329.4 L978.2,293.0 L981.5,286.4 L985.9,282.0 L989.2,265.5 L991.5,248.0" stroke="#666699" stroke-width="1.2"/><path d="M59.0,561.9 L60.9,562.1 L62.7,562.1 L64.6,562.3 L66.4,562.3 L68.3,562.3 L70.1,562.4 L72.0,562.3 L73.8,562.3 L75.7,562.2 L77.5,562.2 L79.4,562.1 L81.2,562.0 L83.1,561.9 L84.9,561.9 L86.8,561.9 L88.6,561.7 L90.5,561.6 L92.3,561.6 L94.2,561.6 L96.0,561.4 L97.9,561.4 L99.7,561.3 L101.6,561.2 L103.4,561.2 L105.3,561.2 L107.1,561.1 L109.0,561.1 L110.8,561.1 L112.7,561.1 L114.5,561.0 L116.4,561.0 L118.2,560.9 L120.1,560.9 L121.9,560.9 L123.8,560.8 L125.6,560.7 L127.5,560.7 L129.3,560.8 L131.2,560.6 L133.0,560.7 L134.9,560.7 L136.7,560.6 L138.6,560.5 L140.4,560.4 L142.3,560.6 L144.1,560.4 L146.0,560.4 L147.8,560.5 L149.7,560.5 L151.5,560.5 L153.4,560.6 L155.2,560.6 L157.1,560.8 L158.9,560.8 L160.8,560.9 L162.6,560.9 L164.5,561.2 L166.3,561.2 L168.2,561.0 L170.0,561.1 L171.9,560.8 L173.7,560.8 L175.6,560.6 L177.4,560.4 L179.3,560.5 L181.1,560.4 L183.0,560.1 L184.8,560.2 L186.7,560.0 L188.5,559.9 L190.4,559.8 L192.2,559.6 L194.1,559.6 L195.9,559.5 L197.8,559.5 L199.6,559.5 L201.5,559.6 L203.3,559.5 L205.2,559.6 L207.0,559.3 L208.9,559.4 L210.7,559.1 L212.6,558.9 L214.4,559.1 L216.3,559.1 L218.1,559.1 L220.0,559.1 L221.8,559.2 L223.7,559.2 L225.5,559.4 L227.4,559.4 L229.2,559.3 L231.1,559.6 L232.9,559.6 L234.8,559.7 L236.6,559.8 L238.5,560.1 L240.3,560.1 L242.2,560.3 L244.0,560.4 L245.9,560.6 L247.7,560.8 L249.6,560.5 L251.4,560.2 L253.3,560.0 L255.1,559.8 L257.0,559.5 L258.8,559.2 L260.7,559.1 L262.5,558.7 L264.4,558.9 L266.2,558.7 L268.1,558.4 L269.9,558.6 L271.8,558.6 L273.6,558.6 L275.5,558.8 L277.3,558.7 L279.2,558.9 L281.0,559.1 L282.9,558.7 L284.7,558.7 L286.6,558.3 L288.4,558.6 L290.3,558.3 L292.1,558.3 L294.0,558.2 L295.8,557.8 L297.7,557.9 L299.5,557.9 L301.4,557.7 L303.2,557.6 L305.1,557.9 L306.9,557.9 L308.8,557.7 L310.6,557.9 L312.5,558.0 L314.3,558.1 L316.2,558.2 L318.0,558.4 L319.9,558.2 L321.7,558.4 L323.6,558.6 L325.4,558.8 L327.3,558.9 L329.1,558.9 L331.0,559.2 L332.8,559.5 L334.7,559.6 L336.5,559.7 L338.4,560.1 L340.2,560.3 L342.1,560.3 L343.9,560.1 L345.8,559.8 L347.6,559.7 L349.5,559.5 L351.3,559.4 L353.2,559.2 L355.0,558.8 L356.9,558.6 L358.7,558.3 L360.6,558.1 L362.4,557.8 L364.3,557.5 L366.1,557.4 L368.0,557.3 L369.8,557.4 L371.7,557.1 L373.5,557.2 L375.4,556.9 L377.2,557.0 L379.1,557.0 L380.9,556.9 L382.8,556.7 L384.6,556.8 L386.5,556.7 L388.3,556.9 L390.2,556.7 L392.0,556.8 L393.9,556.3 L395.7,556.6 L397.6,556.6 L399.4,556.6 L401.3,556.9 L403.1,556.9 L405.0,556.7 L406.8,556.5 L408.7,556.9 L410.5,556.8 L412.4,556.7 L414.2,556.9 L416.1,556.8 L417.9,556.5 L419.8,556.2 L421.6,556.1 L423.5,555.7 L425.3,555.9 L427.2,555.7 L429.0,555.3 L430.9,555.2 L432.7,555.5 L434.6,555.1 L436.4,554.7 L438.3,555.0 L440.1,554.8 L442.0,554.6 L443.8,554.5 L445.7,554.2 L447.5,553.9 L449.4,553.6 L451.2,553.3 L453.1,553.4 L454.9,553.5 L456.8,553.0 L458.6,552.9 L460.5,552.5 L462.3,552.4 L464.2,552.6 L466.0,551.8 L467.9,552.2 L469.7,551.7 L471.6,551.2 L473.4,551.0 L475.3,550.6 L477.1,551.2 L479.0,550.6 L480.8,550.2 L482.7,550.2 L484.5,549.7 L486.4,550.1 L488.2,549.8 L490.1,549.8 L491.9,550.5 L493.8,550.4 L495.6,550.4 L497.5,550.6 L499.3,550.3 L501.2,550.5 L503.0,550.5 L504.9,550.6 L506.7,551.0 L508.6,551.1 L510.4,551.1 L512.3,550.8 L514.1,550.7 L516.0,550.2 L517.8,549.7 L519.7,548.8 L521.5,548.2 L523.4,547.6 L525.2,546.4 L527.1,545.0 L529.0,543.9 L530.8,543.6 L532.7,542.5 L534.5,541.9 L536.4,541.6 L538.2,540.7 L540.1,540.7 L541.9,540.4 L543.8,539.9 L545.6,540.6 L547.5,540.5 L549.3,540.3 L551.2,540.3 L553.0,540.8 L554.9,540.9 L556.7,540.8 L558.6,541.0 L560.4,540.8 L562.3,540.6 L564.1,540.1 L566.0,538.2 L567.8,537.7 L569.7,537.5 L571.5,536.4 L573.4,535.7 L575.2,535.8 L577.1,534.3 L578.9,534.7 L580.8,533.8 L582.6,533.2 L584.5,533.1 L586.3,533.6 L588.2,532.7 L590.0,531.0 L591.9,529.8 L593.7,527.1 L595.6,527.4 L597.4,524.8 L599.3,524.9 L601.1,523.0 L603.0,523.6 L604.8,524.2 L606.7,525.7 L608.5,522.6 L610.4,523.9 L612.2,523.5 L614.1,520.7 L615.9,519.0 L617.8,516.9 L619.6,515.6 L621.5,515.5 L623.3,512.4 L625.2,512.6 L627.0,510.3 L628.9,508.5 L630.7,511.5 L632.6,517.5 L634.4,523.2 L636.3,521.9 L638.1,520.8 L640.0,518.1 L641.8,517.6 L643.7,516.8 L645.5,515.0 L647.4,514.9 L649.2,512.1 L651.1,511.7 L652.9,513.6 L654.8,511.1 L656.6,511.2 L658.5,508.5 L660.3,507.8 L662.2,506.2 L664.0,505.0 L665.9,504.1 L667.7,504.0 L669.6,503.6 L671.4,499.4 L673.3,496.1 L675.1,496.2 L677.0,497.9 L678.8,496.5 L680.7,498.7 L682.5,497.1 L684.4,499.4 L686.2,495.9 L688.1,498.5 L689.9,495.6 L691.8,497.6 L693.6,497.5 L695.5,500.4 L697.3,507.1 L699.2,506.9 L701.0,502.3 L702.9,499.1 L704.7,497.5 L706.6,491.7 L708.4,491.8 L710.3,488.5 L712.1,488.2 L714.0,490.0 L715.8,488.9 L717.7,485.9 L719.5,488.7 L721.4,487.4 L723.2,487.2 L725.1,483.9 L726.9,480.6 L728.8,480.4 L730.6,474.7 L732.5,476.3 L734.3,475.4 L736.2,475.0 L738.0,475.0 L739.9,476.0 L741.7,476.1 L743.6,472.9 L745.4,474.2 L747.3,473.7 L749.1,466.8 L751.0,465.2 L752.8,463.2 L754.7,459.7 L756.5,462.5 L758.4,459.1 L760.2,457.6 L762.1,455.2 L763.9,453.7 L765.8,455.8 L767.6,456.0 L769.5,452.9 L771.3,453.4 L773.2,451.4 L775.0,455.7 L776.9,456.6 L778.7,457.2 L780.6,451.3 L782.4,452.5 L784.3,451.9 L786.1,451.4 L788.0,453.7 L789.8,454.1 L791.7,449.9 L793.5,449.3 L795.4,443.3 L797.2,441.2 L799.1,434.6 L800.9,433.0 L802.8,430.5 L804.6,428.5 L806.5,423.9 L808.3,425.1 L810.2,417.1 L812.0,415.0 L813.9,410.7 L815.7,410.4 L817.6,408.2 L819.4,405.1 L821.3,397.6 L823.1,399.3 L825.0,399.7 L826.8,409.0 L828.7,399.8 L830.5,402.9 L832.5,385.1 L835.0,377.9 L837.5,372.9 L839.5,374.2 L841.2,372.8 L843.8,361.9 L846.5,344.0 L848.5,334.8 L850.0,331.7 L851.5,333.0 L853.5,327.2 L855.3,323.0 L857.0,319.9 L858.8,313.4 L861.5,302.2 L863.2,282.3 L865.9,277.2 L868.2,278.1 L870.3,276.9 L871.3,280.9 L872.3,296.4 L873.6,315.4 L875.5,294.6 L877.4,277.7 L879.3,267.8 L881.1,261.8 L883.0,264.4 L884.8,263.7 L886.7,251.0 L888.6,241.5 L890.2,237.4 L891.8,235.3 L894.8,246.5 L897.8,261.6 L900.0,250.7 L902.3,243.6 L904.0,256.8 L906.3,277.5 L908.0,258.8 L909.6,246.0 L912.2,242.6 L914.3,251.9 L916.0,238.1 L917.6,227.2 L920.9,220.7 L923.1,224.6 L925.0,208.3 L926.9,200.0 L928.8,212.4 L930.8,228.2 L932.5,214.4 L934.1,206.5 L937.6,215.4 L940.0,241.2 L942.3,263.1 L944.3,243.7 L946.3,226.6 L948.5,220.0 L950.7,212.3 L952.0,199.4 L953.1,190.1 L956.6,204.3 L958.7,226.5 L960.6,248.6 L962.3,270.8 L963.9,289.1 L965.5,272.9 L967.2,260.7 L968.8,268.6 L970.5,279.3 L972.7,288.1 L974.9,295.1 L976.5,268.7 L978.2,244.9 L980.4,235.8 L982.6,228.2 L985.9,217.2 L987.1,203.8 L988.5,193.4 L990.0,179.6 L991.5,167.4" stroke="#0f8a86" stroke-width="1.2"/><path d="M59.0,561.9 L60.9,562.1 L62.7,562.1 L64.6,562.3 L66.4,562.3 L68.3,562.3 L70.1,562.4 L72.0,562.3 L73.8,562.2 L75.7,562.2 L77.5,562.2 L79.4,562.1 L81.2,562.0 L83.1,561.9 L84.9,561.9 L86.8,561.9 L88.6,561.7 L90.5,561.6 L92.3,561.6 L94.2,561.6 L96.0,561.4 L97.9,561.4 L99.7,561.3 L101.6,561.2 L103.4,561.2 L105.3,561.2 L107.1,561.1 L109.0,561.2 L110.8,561.1 L112.7,561.1 L114.5,561.0 L116.4,561.0 L118.2,561.0 L120.1,560.9 L121.9,560.9 L123.8,560.8 L125.6,560.8 L127.5,560.7 L129.3,560.8 L131.2,560.6 L133.0,560.7 L134.9,560.7 L136.7,560.6 L138.6,560.6 L140.4,560.5 L142.3,560.6 L144.1,560.5 L146.0,560.4 L147.8,560.5 L149.7,560.6 L151.5,560.5 L153.4,560.6 L155.2,560.6 L157.1,560.8 L158.9,560.9 L160.8,561.0 L162.6,561.0 L164.5,561.2 L166.3,561.2 L168.2,561.1 L170.0,561.1 L171.9,560.8 L173.7,560.8 L175.6,560.7 L177.4,560.4 L179.3,560.5 L181.1,560.4 L183.0,560.1 L184.8,560.2 L186.7,560.1 L188.5,559.9 L190.4,559.8 L192.2,559.7 L194.1,559.7 L195.9,559.5 L197.8,559.5 L199.6,559.5 L201.5,559.6 L203.3,559.6 L205.2,559.7 L207.0,559.3 L208.9,559.5 L210.7,559.1 L212.6,558.9 L214.4,559.1 L216.3,559.1 L218.1,559.2 L220.0,559.1 L221.8,559.3 L223.7,559.3 L225.5,559.4 L227.4,559.5 L229.2,559.4 L231.1,559.7 L232.9,559.7 L234.8,559.8 L236.6,559.9 L238.5,560.2 L240.3,560.2 L242.2,560.4 L244.0,560.5 L245.9,560.7 L247.7,560.9 L249.6,560.6 L251.4,560.3 L253.3,560.1 L255.1,559.9 L257.0,559.5 L258.8,559.2 L260.7,559.2 L262.5,558.8 L264.4,559.0 L266.2,558.8 L268.1,558.5 L269.9,558.7 L271.8,558.6 L273.6,558.7 L275.5,558.8 L277.3,558.8 L279.2,559.0 L281.0,559.1 L282.9,558.8 L284.7,558.7 L286.6,558.4 L288.4,558.7 L290.3,558.4 L292.1,558.4 L294.0,558.3 L295.8,557.9 L297.7,558.0 L299.5,558.0 L301.4,557.8 L303.2,557.7 L305.1,558.0 L306.9,558.0 L308.8,557.8 L310.6,558.0 L312.5,558.1 L314.3,558.2 L316.2,558.3 L318.0,558.5 L319.9,558.4 L321.7,558.5 L323.6,558.7 L325.4,558.9 L327.3,559.0 L329.1,559.1 L331.0,559.3 L332.8,559.6 L334.7,559.7 L336.5,559.8 L338.4,560.2 L340.2,560.4 L342.1,560.4 L343.9,560.2 L345.8,559.9 L347.6,559.8 L349.5,559.6 L351.3,559.5 L353.2,559.3 L355.0,558.9 L356.9,558.7 L358.7,558.4 L360.6,558.3 L362.4,557.9 L364.3,557.7 L366.1,557.6 L368.0,557.5 L369.8,557.5 L371.7,557.3 L373.5,557.4 L375.4,557.1 L377.2,557.2 L379.1,557.2 L380.9,557.2 L382.8,557.0 L384.6,557.0 L386.5,557.0 L388.3,557.1 L390.2,556.9 L392.0,557.1 L393.9,556.6 L395.7,556.8 L397.6,556.8 L399.4,556.9 L401.3,557.1 L403.1,557.1 L405.0,556.9 L406.8,556.7 L408.7,557.1 L410.5,557.1 L412.4,557.0 L414.2,557.1 L416.1,557.0 L417.9,556.7 L419.8,556.5 L421.6,556.4 L423.5,556.0 L425.3,556.2 L427.2,555.9 L429.0,555.6 L430.9,555.5 L432.7,555.8 L434.6,555.5 L436.4,555.1 L438.3,555.3 L440.1,555.1 L442.0,555.0 L443.8,554.8 L445.7,554.6 L447.5,554.3 L449.4,553.9 L451.2,553.7 L453.1,553.8 L454.9,554.0 L456.8,553.4 L458.6,553.3 L460.5,552.9 L462.3,552.8 L464.2,553.0 L466.0,552.3 L467.9,552.7 L469.7,552.2 L471.6,551.8 L473.4,551.6 L475.3,551.1 L477.1,551.8 L479.0,551.0 L480.8,550.7 L482.7,550.7 L484.5,550.3 L486.4,550.7 L488.2,550.4 L490.1,550.5 L491.9,551.0 L493.8,551.0 L495.6,551.0 L497.5,551.2 L499.3,550.9 L501.2,551.2 L503.0,551.1 L504.9,551.2 L506.7,551.6 L508.6,551.7 L510.4,551.7 L512.3,551.5 L514.1,551.3 L516.0,550.8 L517.8,550.5 L519.7,549.6 L521.5,548.8 L523.4,548.4 L525.2,547.4 L527.1,545.9 L529.0,544.9 L530.8,544.7 L532.7,543.6 L534.5,543.0 L536.4,542.8 L538.2,541.9 L540.1,542.0 L541.9,541.6 L543.8,541.2 L545.6,541.9 L547.5,541.6 L549.3,541.7 L551.2,541.5 L553.0,542.1 L554.9,542.0 L556.7,542.0 L558.6,542.2 L560.4,542.1 L562.3,541.8 L564.1,541.4 L566.0,539.5 L567.8,539.1 L569.7,538.9 L571.5,538.0 L573.4,537.2 L575.2,537.5 L577.1,536.2 L578.9,536.3 L580.8,535.7 L582.6,534.9 L584.5,534.9 L586.3,535.0 L588.2,534.4 L590.0,533.2 L591.9,531.8 L593.7,529.4 L595.6,529.4 L597.4,527.1 L599.3,527.4 L601.1,525.5 L603.0,526.0 L604.8,526.8 L606.7,528.1 L608.5,525.0 L610.4,526.5 L612.2,526.0 L614.1,523.7 L615.9,521.9 L617.8,519.9 L619.6,518.9 L621.5,518.8 L623.3,515.7 L625.2,516.0 L627.0,513.8 L628.9,512.2 L630.7,514.9 L632.6,520.7 L634.4,525.7 L636.3,524.6 L638.1,523.7 L640.0,521.1 L641.8,520.5 L643.7,520.0 L645.5,518.3 L647.4,518.0 L649.2,515.7 L651.1,515.1 L652.9,517.2 L654.8,514.8 L656.6,514.9 L658.5,512.5 L660.3,511.8 L662.2,510.0 L664.0,509.5 L665.9,507.9 L667.7,507.8 L669.6,507.7 L671.4,503.9 L673.3,501.1 L675.1,500.9 L677.0,502.5 L678.8,500.7 L680.7,503.1 L682.5,502.0 L684.4,503.6 L686.2,500.6 L688.1,502.8 L689.9,500.0 L691.8,502.7 L693.6,502.5 L695.5,504.8 L697.3,510.9 L699.2,510.8 L701.0,506.5 L702.9,503.8 L704.7,502.1 L706.6,496.9 L708.4,496.8 L710.3,494.3 L712.1,494.1 L714.0,495.1 L715.8,494.1 L717.7,491.6 L719.5,494.0 L721.4,492.7 L723.2,492.2 L725.1,489.6 L726.9,486.0 L728.8,486.3 L730.6,481.0 L732.5,482.9 L734.3,482.0 L736.2,481.4 L738.0,481.1 L739.9,482.6 L741.7,482.5 L743.6,479.4 L745.4,480.7 L747.3,480.1 L749.1,474.2 L751.0,472.6 L752.8,470.2 L754.7,467.2 L756.5,469.4 L758.4,466.7 L760.2,464.9 L762.1,462.6 L763.9,461.7 L765.8,463.8 L767.6,463.8 L769.5,461.0 L771.3,462.0 L773.2,459.2 L775.0,463.8 L776.9,464.8 L778.7,464.3 L780.6,459.2 L782.4,460.0 L784.3,460.0 L786.1,459.2 L788.0,461.6 L789.8,461.5 L791.7,458.7 L793.5,457.5 L795.4,452.4 L797.2,448.9 L799.1,444.2 L800.9,441.7 L802.8,439.9 L804.6,438.3 L806.5,433.8 L808.3,433.8 L810.2,427.4 L812.0,425.5 L813.9,421.4 L815.7,420.8 L817.6,418.6 L819.4,416.8 L821.3,410.2 L823.1,411.7 L825.0,412.6 L826.8,419.3 L828.7,411.0 L830.5,412.1 L832.5,394.5 L835.0,388.5 L837.5,384.6 L839.5,386.5 L841.2,385.8 L843.8,376.5 L846.5,360.6 L848.5,352.5 L850.0,350.0 L851.5,351.5 L853.5,346.5 L855.3,343.0 L857.0,340.5 L858.8,335.0 L861.5,325.3 L863.2,307.6 L865.9,303.2 L868.2,303.8 L870.3,302.4 L871.3,306.0 L872.3,320.0 L873.6,337.2 L875.5,318.0 L877.4,302.3 L879.3,293.0 L881.1,287.3 L883.0,289.5 L884.8,288.6 L886.7,276.0 L888.6,266.2 L890.2,261.5 L891.8,258.7 L894.8,267.4 L897.8,279.9 L900.0,268.5 L902.3,260.5 L904.0,272.0 L906.3,291.0 L908.0,273.0 L909.6,260.5 L912.2,256.9 L914.3,265.5 L916.0,252.0 L917.6,241.3 L920.9,234.6 L923.1,238.0 L925.0,222.0 L926.9,211.0 L928.8,220.0 L930.8,232.4 L932.5,216.0 L934.1,205.5 L937.6,208.5 L940.0,231.0 L942.3,251.2 L944.3,236.0 L946.3,223.6 L948.5,222.5 L950.7,220.3 L952.0,211.0 L953.1,204.5 L956.6,217.2 L958.7,238.0 L960.6,258.9 L962.3,280.0 L963.9,297.4 L965.5,281.0 L967.2,267.7 L968.8,274.0 L970.5,283.1 L972.7,290.0 L974.9,295.2 L976.5,270.0 L978.2,247.9 L980.4,241.0 L982.6,235.7 L985.9,228.0 L987.1,216.0 L988.5,207.0 L990.0,195.0 L991.5,184.5" stroke="#0f1fff" stroke-width="3.6"/></g><rect x="60.0" y="114" width="931.5" height="2" fill="#858585"/><rect x="991" y="114" width="1" height="451.8" fill="#858585"/><rect x="58" y="114" width="2" height="451.79999999999995" fill="#5a5a5a"/><rect x="58" y="563.8" width="934" height="2" fill="#555555"/><rect x="55" y="564.00" width="3.5" height="1.6" fill="#666"/><text x="44.6" y="568.70" text-anchor="end" class="ay">0.00</text><rect x="55" y="507.77" width="3.5" height="1.6" fill="#666"/><text x="44.6" y="512.47" text-anchor="end" class="ay">20.00</text><rect x="55" y="451.55" width="3.5" height="1.6" fill="#666"/><text x="44.6" y="456.25" text-anchor="end" class="ay">40.00</text><rect x="55" y="395.32" width="3.5" height="1.6" fill="#666"/><text x="44.6" y="400.02" text-anchor="end" class="ay">60.00</text><rect x="55" y="339.10" width="3.5" height="1.6" fill="#666"/><text x="44.6" y="343.80" text-anchor="end" class="ay">80.00</text><rect x="55" y="282.88" width="3.5" height="1.6" fill="#666"/><text x="44.6" y="287.57" text-anchor="end" class="ay">100.00</text><rect x="55" y="226.65" width="3.5" height="1.6" fill="#666"/><text x="44.6" y="231.35" text-anchor="end" class="ay">120.00</text><rect x="55" y="170.43" width="3.5" height="1.6" fill="#666"/><text x="44.6" y="175.13" text-anchor="end" class="ay">140.00</text><rect x="55" y="114.20" width="3.5" height="1.6" fill="#666"/><text x="44.6" y="118.90" text-anchor="end" class="ay">160.00</text><rect x="58.25" y="564.8" width="1.5" height="4.2" fill="#666"/><text transform="translate(62.60,618.2) rotate(-90)" class="ax">Dec-61</text><rect x="102.65" y="564.8" width="1.5" height="4.2" fill="#666"/><text transform="translate(107.00,618.2) rotate(-90)" class="ax">Dec-63</text><rect x="147.06" y="564.8" width="1.5" height="4.2" fill="#666"/><text transform="translate(151.41,618.2) rotate(-90)" class="ax">Dec-65</text><rect x="191.46" y="564.8" width="1.5" height="4.2" fill="#666"/><text transform="translate(195.81,618.2) rotate(-90)" class="ax">Dec-67</text><rect x="235.87" y="564.8" width="1.5" height="4.2" fill="#666"/><text transform="translate(240.22,618.2) rotate(-90)" class="ax">Dec-69</text><rect x="280.27" y="564.8" width="1.5" height="4.2" fill="#666"/><text transform="translate(284.62,618.2) rotate(-90)" class="ax">Dec-71</text><rect x="324.68" y="564.8" width="1.5" height="4.2" fill="#666"/><text transform="translate(329.03,618.2) rotate(-90)" class="ax">Dec-73</text><rect x="369.08" y="564.8" width="1.5" height="4.2" fill="#666"/><text transform="translate(373.43,618.2) rotate(-90)" class="ax">Dec-75</text><rect x="413.49" y="564.8" width="1.5" height="4.2" fill="#666"/><text transform="translate(417.84,618.2) rotate(-90)" class="ax">Dec-77</text><rect x="457.89" y="564.8" width="1.5" height="4.2" fill="#666"/><text transform="translate(462.24,618.2) rotate(-90)" class="ax">Dec-79</text><rect x="502.30" y="564.8" width="1.5" height="4.2" fill="#666"/><text transform="translate(506.65,618.2) rotate(-90)" class="ax">Dec-81</text><rect x="546.70" y="564.8" width="1.5" height="4.2" fill="#666"/><text transform="translate(551.05,618.2) rotate(-90)" class="ax">Dec-83</text><rect x="591.11" y="564.8" width="1.5" height="4.2" fill="#666"/><text transform="translate(595.46,618.2) rotate(-90)" class="ax">Dec-85</text><rect x="635.51" y="564.8" width="1.5" height="4.2" fill="#666"/><text transform="translate(639.86,618.2) rotate(-90)" class="ax">Dec-87</text><rect x="679.92" y="564.8" width="1.5" height="4.2" fill="#666"/><text transform="translate(684.27,618.2) rotate(-90)" class="ax">Dec-89</text><rect x="724.32" y="564.8" width="1.5" height="4.2" fill="#666"/><text transform="translate(728.67,618.2) rotate(-90)" class="ax">Dec-91</text><rect x="768.73" y="564.8" width="1.5" height="4.2" fill="#666"/><text transform="translate(773.08,618.2) rotate(-90)" class="ax">Dec-93</text><rect x="813.13" y="564.8" width="1.5" height="4.2" fill="#666"/><text transform="translate(817.48,618.2) rotate(-90)" class="ax">Dec-95</text><rect x="857.54" y="564.8" width="1.5" height="4.2" fill="#666"/><text transform="translate(861.89,618.2) rotate(-90)" class="ax">Dec-97</text><rect x="901.94" y="564.8" width="1.5" height="4.2" fill="#666"/><text transform="translate(906.29,618.2) rotate(-90)" class="ax">Dec-99</text><rect x="946.35" y="564.8" width="1.5" height="4.2" fill="#666"/><text transform="translate(950.70,618.2) rotate(-90)" class="ax">Dec-01</text><rect x="990.75" y="564.8" width="1.5" height="4.2" fill="#666"/><text transform="translate(995.10,618.2) rotate(-90)" class="ax">Dec-03</text></svg>
<svg width="1013" height="681" viewBox="0 0 1013 681" style="position:absolute;left:0;top:0"><rect x="110.7" y="630" width="829.3" height="19" fill="#fff" stroke="#747474" stroke-width="1.7"/><line x1="115.0" y1="638.6" x2="135.9" y2="638.6" stroke="#ff1020" stroke-width="3.4" stroke-linecap="round"/><text x="139.4" y="644.7" class="lg">CAP 1000</text><line x1="205.7" y1="638.6" x2="227.3" y2="638.6" stroke="#3366ff" stroke-width="1.3" stroke-linecap="butt"/><text x="230.3" y="644.7" class="lg">BOOK 1000</text><line x1="308.2" y1="638.6" x2="329.5" y2="638.6" stroke="#993366" stroke-width="1.3" stroke-linecap="butt"/><text x="333.0" y="644.7" class="lg">INC 1000</text><line x1="394.8" y1="638.6" x2="416.1" y2="638.6" stroke="#33ffff" stroke-width="1.3" stroke-linecap="butt"/><text x="420.0" y="644.7" class="lg">REVENUE 1000</text><line x1="523.0" y1="638.6" x2="543.8" y2="638.6" stroke="#2f9d6b" stroke-width="1.3" stroke-linecap="butt"/><text x="547.6" y="644.7" class="lg">SALES 1000</text><line x1="629.3" y1="638.6" x2="650.4" y2="638.6" stroke="#666699" stroke-width="1.3" stroke-linecap="butt"/><text x="653.9" y="644.7" class="lg">DIV 1000</text><line x1="715.7" y1="638.6" x2="736.4" y2="638.6" stroke="#0f8a86" stroke-width="1.3" stroke-linecap="butt"/><text x="740.5" y="644.7" class="lg">Wage 1000</text><line x1="815.1" y1="638.6" x2="836.0" y2="638.6" stroke="#0f1fff" stroke-width="3.4" stroke-linecap="round"/><text x="839.7" y="644.7" class="lg">Composite 1000</text></svg>
</body></html>
